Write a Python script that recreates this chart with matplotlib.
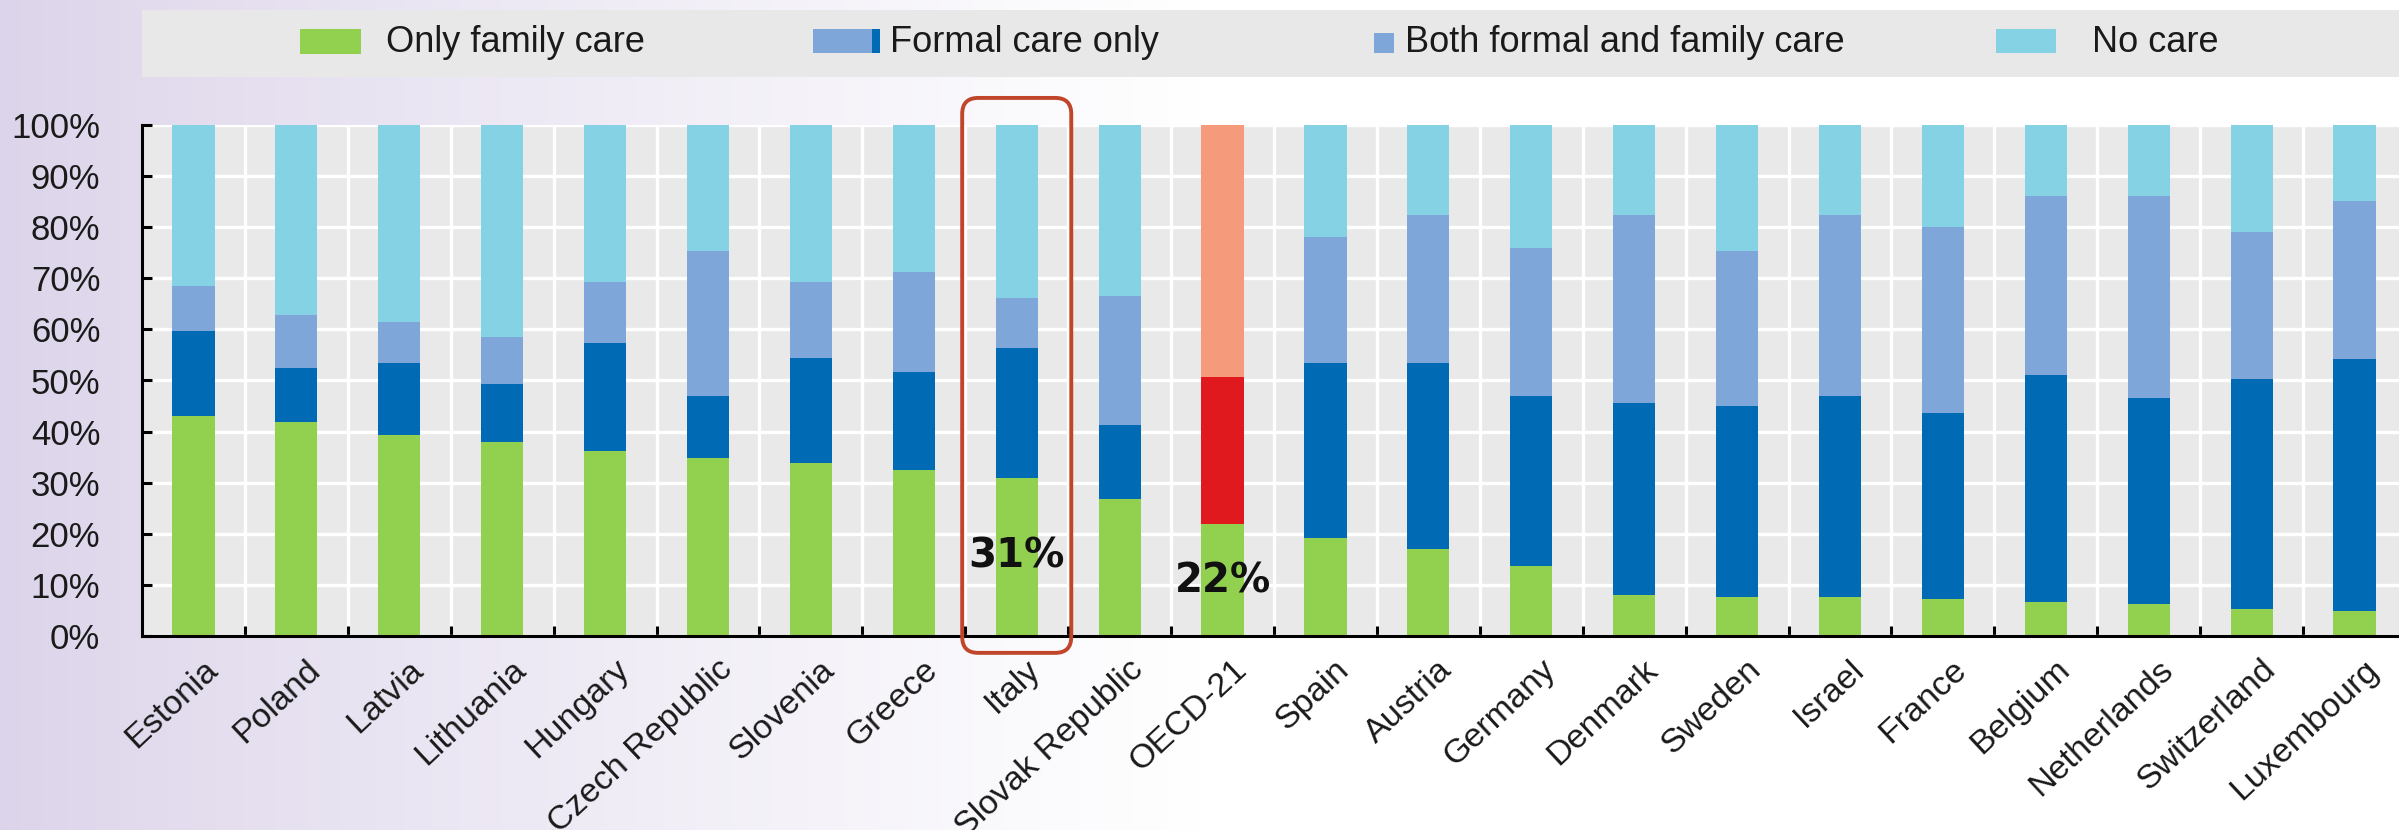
import numpy as np
import matplotlib
matplotlib.use("Agg")
import matplotlib.pyplot as plt
import matplotlib.transforms as mtransforms
from matplotlib.patches import Rectangle, FancyBboxPatch
from matplotlib.colors import to_rgb

# Share of older people with care needs, by type of care received (%)
countries = ["Estonia", "Poland", "Latvia", "Lithuania", "Hungary", "Czech Republic",
             "Slovenia", "Greece", "Italy", "Slovak Republic", "OECD-21", "Spain",
             "Austria", "Germany", "Denmark", "Sweden", "Israel", "France", "Belgium",
             "Netherlands", "Switzerland", "Luxembourg"]
only_family = [43.1, 41.8, 39.3, 38.0, 36.2, 34.8, 33.8, 32.4, 31.0, 26.8, 22.0, 19.2,
               17.0, 13.7, 8.0, 7.6, 7.6, 7.2, 6.7, 6.2, 5.3, 4.8]
formal_only = [16.5, 10.7, 14.2, 11.3, 21.1, 12.2, 20.7, 19.2, 25.3, 14.5, 28.6, 34.3,
               36.5, 33.3, 37.5, 37.5, 39.4, 36.4, 44.4, 40.3, 44.9, 49.5]
both_care = [8.9, 10.3, 7.9, 9.3, 12.0, 28.4, 14.8, 19.6, 9.8, 25.2, 49.4, 24.6,
             28.9, 28.9, 36.9, 30.3, 35.4, 36.4, 35.0, 39.6, 28.9, 30.9]
no_care = [31.5, 37.2, 38.6, 41.4, 30.7, 24.6, 30.7, 28.8, 33.9, 33.5, 0.0, 21.9,
           17.6, 24.1, 17.6, 24.6, 17.6, 20.0, 13.9, 13.9, 20.9, 14.8]
series_names = ["Only family care", "Formal care only",
                "Both formal and family care", "No care"]
y_ticks = [0, 10, 20, 30, 40, 50, 60, 70, 80, 90, 100]

highlight = "Italy"
average = "OECD-21"

GREEN = "#92D050"
DARK_BLUE = "#006AB5"
LIGHT_BLUE = "#7FA6D8"
SKY = "#84D2E3"
RED = "#E0191F"
SALMON = "#F59A7B"
series_colors = [GREEN, DARK_BLUE, LIGHT_BLUE, SKY]
average_colors = [GREEN, RED, SALMON, SALMON]

W, H, DPI = 2399, 830, 100
plt.rcParams['font.family'] = ['Liberation Sans', 'DejaVu Sans']
fig = plt.figure(figsize=(W / DPI, H / DPI), dpi=DPI)

# soft lavender-to-white backdrop
bg = fig.add_axes([0, 0, 1, 1], zorder=-10)
xs = np.linspace(0, 1, 800)
t = np.clip(xs * W / 1200.0, 0, 1) ** 0.85
c0 = np.array(to_rgb("#DCD4EA"))
grad = c0[None, :] * (1 - t[:, None]) + np.ones(3)[None, :] * t[:, None]
bg.imshow(grad[None, :, :], aspect="auto", extent=[0, 1, 0, 1])
bg.set_axis_off()


def fx(x):
    return x / W


def fy(y):
    return 1 - y / H


# legend strip
fig.add_artist(Rectangle((fx(142), fy(77)), 1.0, (77 - 10) / H,
                         transform=fig.transFigure, facecolor="#E8E8E8",
                         edgecolor="none", zorder=1))
legend_patch = [(300, 361, 29, 54), (813, 872, 29, 53), (1374, 1394, 33, 53),
                (1996, 2056, 29, 53)]
legend_text_x = [386, 890, 1405, 2092]
legend_fill = [GREEN, LIGHT_BLUE, LIGHT_BLUE, SKY]
for name, (x0, x1, y0, y1), tx, col in zip(series_names, legend_patch,
                                           legend_text_x, legend_fill):
    fig.add_artist(Rectangle((fx(x0), fy(y1)), (x1 - x0) / W, (y1 - y0) / H,
                             transform=fig.transFigure, facecolor=col,
                             edgecolor="none", zorder=2))
    fig.text(fx(tx), fy(43), name, fontsize=26, color="#1a1a1a",
             ha="left", va="center", zorder=3)
# dark edge strip on the formal-care key
fig.add_artist(Rectangle((fx(872), fy(53)), 8 / W, 24 / H,
                         transform=fig.transFigure, facecolor=DARK_BLUE,
                         edgecolor="none", zorder=2))

# main chart
ax = fig.add_axes([fx(142), fy(636), (2406 - 142) / W, (636 - 125) / H])
ax.set_facecolor("#E9E9E9")
n = len(countries)
x = np.arange(n)
bar_w = 0.41
bottom = np.zeros(n)
for k, vals in enumerate([only_family, formal_only, both_care, no_care]):
    vals = np.array(vals)
    cols = [average_colors[k] if c == average else series_colors[k]
            for c in countries]
    ax.bar(x, vals, bar_w, bottom=bottom, color=cols, edgecolor="none", zorder=3)
    bottom += vals

ax.set_xlim(-0.5, n - 0.5)
ax.set_ylim(0, 100)
ax.set_yticks(y_ticks)
ax.set_yticklabels([f"{v}%" for v in y_ticks], fontsize=25, color="#1a1a1a")
ax.set_xticks(x)
ax.set_xticklabels(countries, fontsize=24.5, color="#1a1a1a", rotation=43,
                   ha="right", va="top", rotation_mode="anchor")
ax.set_xticks(x[:-1] + 0.5, minor=True)
ax.tick_params(axis="x", which="major", length=0, pad=13)
ax.tick_params(axis="x", which="minor", direction="in", length=7, width=2.2,
               color="black")
ax.tick_params(axis="y", which="major", direction="in", length=7, width=2.2,
               color="black", pad=30)
shift = mtransforms.ScaledTranslation(0.09, 0, fig.dpi_scale_trans)
for lab in ax.get_xticklabels():
    lab.set_transform(lab.get_transform() + shift)

ax.set_axisbelow(True)
ax.grid(axis="y", which="major", color="white", linewidth=2.4, zorder=0)
ax.grid(axis="x", which="minor", color="white", linewidth=2.4, zorder=0)
ax.grid(axis="x", which="major", visible=False)
for side in ["top", "right"]:
    ax.spines[side].set_visible(False)
for side in ["left", "bottom"]:
    ax.spines[side].set_linewidth(2.2)
    ax.spines[side].set_color("black")
    ax.spines[side].set_zorder(5)

# value callouts
hi = countries.index(highlight)
av = countries.index(average)
ax.text(hi, 15.5, f"{only_family[hi]:.0f}%", fontsize=29, fontweight="bold",
        family="DejaVu Sans", ha="center", va="center", color="#111111", zorder=6)
ax.text(av, 10.6, f"{only_family[av]:.0f}%", fontsize=29, fontweight="bold",
        family="DejaVu Sans", ha="center", va="center", color="#111111", zorder=6)

# rounded frame around the highlighted country
p0 = ax.transData.transform((hi - 0.53, -3.3)) / DPI
p1 = ax.transData.transform((hi + 0.53, 105.3)) / DPI
frame = FancyBboxPatch(tuple(p0), p1[0] - p0[0], p1[1] - p0[1],
                       boxstyle="round,pad=0,rounding_size=0.16",
                       transform=fig.dpi_scale_trans, facecolor="none",
                       edgecolor="#C0452A", linewidth=2.8, zorder=7,
                       clip_on=False)
fig.add_artist(frame)

fig.savefig("out.png", dpi=DPI)
